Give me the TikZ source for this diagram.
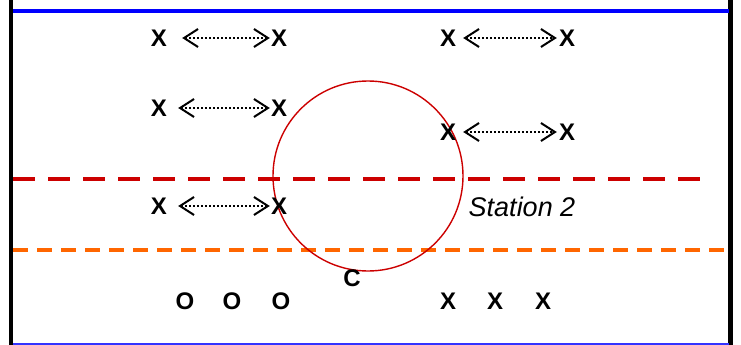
\documentclass[tikz,border=0pt]{standalone}
\usepackage{fontspec}
\setmainfont{Liberation Sans}
\usetikzlibrary{arrows.meta}
\definecolor{dred}{RGB}{204,0,0}
\definecolor{dorange}{RGB}{255,102,0}
\begin{document}
\begin{tikzpicture}[x=1pt,y=-1pt,
  player/.style={font=\fontsize{24}{24}\selectfont\bfseries, inner sep=0pt},
  swap/.style={black, line width=2pt, dotted, {Straight Barb[length=14pt,width=18pt,line width=2pt]}-{Straight Barb[length=14pt,width=18pt,line width=2pt]}}
]
\useasboundingbox (0,0) rectangle (741,345);
% field borders
\draw[line width=4.5pt, black] (11,0) coordinate (bl0) -- (11,345) coordinate (bl1);
\draw[line width=4.5pt, black] (730.5,0) coordinate (br0) -- (730.5,345) coordinate (br1);
\draw[line width=4pt, blue] (13,11) coordinate (t0) -- (729,11) coordinate (t1);
\draw[line width=1.5pt, blue!80] (13,344.2) coordinate (b0) -- (729,344.2) coordinate (b1);
% dashed lines
\draw[line width=4.5pt, dred, dash pattern=on 22pt off 13pt] (13,179) coordinate (r0) -- (706,179) coordinate (r1);
\draw[line width=3.5pt, dorange, dash pattern=on 15pt off 9pt] (13,250) coordinate (o0) -- (729,250) coordinate (o1);
% circle
\node[draw=dred, line width=1.4pt, circle, minimum size=190pt, inner sep=0pt] (circ) at (368,176) {};
% players
\node[player] (a1) at (159,38) {X};
\node[player] (a2) at (279,38) {X};
\node[player] (b1) at (448,38) {X};
\node[player] (b2) at (567,38) {X};
\node[player] (c1) at (159,108) {X};
\node[player] (c2) at (279,108) {X};
\node[player] (d1) at (448,132) {X};
\node[player] (d2) at (567,132) {X};
\node[player] (e1) at (159,206) {X};
\node[player] (e2) at (279,206) {X};
\node[font=\fontsize{27}{27}\selectfont\itshape, inner sep=0pt] (st) at (522,207) {Station 2};
\node[player] (coach) at (352,278) {C};
\node[player] (o1) at (185,301) {O};
\node[player] (o2) at (232,301) {O};
\node[player] (o3) at (281,301) {O};
\node[player] (x1) at (448,301) {X};
\node[player] (x2) at (495,301) {X};
\node[player] (x3) at (543,301) {X};
% swaps
\draw[swap] ([xshift=15pt]a1.east) -- ([xshift=-1pt]a2.west);
\draw[swap] ([xshift=7pt]b1.east) -- ([xshift=-2pt]b2.west);
\draw[swap] ([xshift=11pt]c1.east) -- ([xshift=-1pt]c2.west);
\draw[swap] ([xshift=7pt]d1.east) -- ([xshift=-2pt]d2.west);
\draw[swap] ([xshift=11pt]e1.east) -- ([xshift=-1pt]e2.west);
\end{tikzpicture}
\end{document}
